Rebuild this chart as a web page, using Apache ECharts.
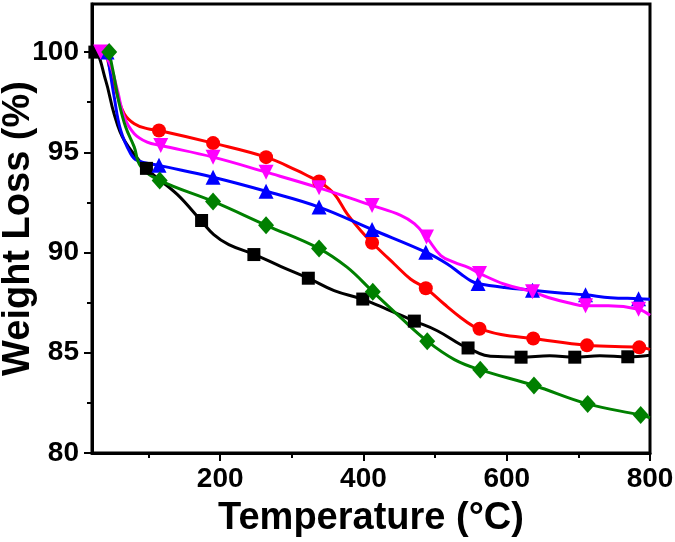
<!DOCTYPE html>
<html>
<head>
<meta charset="utf-8">
<script src="https://cdn.jsdelivr.net/npm/echarts@6/dist/echarts.min.js"></script>
<style>
  html, body { margin: 0; padding: 0; background: #fff; }
  #tga { width: 675px; height: 542px; }
</style>
</head>
<body>
<div id="tga"></div>
<script>
// TGA curves, [temperature, weight %]
const blackLine = [[21,100],[25,100],[40,98.6],[52,96.9],[66,95.6],[97,94.2],[140,92.9],[173,91.6],[191,90.9],[212,90.4],[248,89.9],[285,89.3],[323,88.72],[359,88.1],[398,87.68],[433,87.17],[471,86.58],[503,86.1],[536,85.4],[546,85.24],[569,84.88],[595,84.8],[620,84.78],[660,84.85],[695,84.78],[730,84.85],[769,84.8],[800,84.88]];
const blackMarks = [[25,100],[97,94.2],[174,91.6],[247,89.9],[323,88.72],[399,87.68],[471,86.58],[546,85.24],[620,84.78],[695,84.78],[769,84.8]];

const redLine = [[40,100],[56,97.9],[66,96.93],[80,96.43],[98,96.18],[114.5,96.09],[190,95.46],[264,94.76],[307,94.1],[326,93.76],[338,93.55],[359,92.93],[377,91.94],[396,91.1],[412,90.49],[443,89.43],[466,88.67],[487,88.22],[513,87.42],[536,86.75],[553,86.33],[562,86.2],[592,85.91],[637,85.71],[712,85.37],[785,85.27],[800,85.17]];
const redMarks = [[40,100],[114.5,96.09],[190,95.46],[264,94.76],[338,93.55],[412,90.49],[487,88.22],[562,86.2],[637,85.71],[712,85.37],[785,85.27]];

const blueLine = [[42,100],[52,97.76],[61,96.1],[75,94.93],[84,94.6],[114.5,94.35],[190,93.76],[264,93.06],[338,92.27],[412,91.15],[487,90.02],[517,89.43],[536,88.93],[550,88.59],[560,88.46],[597,88.26],[636,88.12],[671,88.0],[710,87.89],[745,87.75],[784,87.7],[800,87.67]];
const blueMarks = [[42,100],[114.5,94.35],[190,93.76],[264,93.06],[338,92.27],[412,91.15],[487,90.02],[560,88.46],[636,88.12],[710,87.89],[784,87.7]];

const pinkLine = [[33,100],[45,99.5],[56.5,98.09],[66,96.76],[80,95.93],[98,95.51],[117,95.34],[190,94.76],[264,94.01],[338,93.23],[412,92.35],[452,91.86],[471,91.44],[488,90.77],[508,89.85],[527,89.51],[546,89.26],[562,88.96],[597,88.42],[636,88.04],[658,87.76],[686,87.5],[710,87.34],[742,87.34],[784,87.17],[800,86.87]];
const pinkMarks = [[33,100],[117,95.34],[190,94.76],[264,94.01],[338,93.23],[412,92.35],[488,90.77],[562,88.96],[636,88.04],[710,87.34],[784,87.17]];

const greenLine = [[45,100],[52,98.75],[59,97.43],[68,96.26],[80,95.26],[89,94.3],[115.5,93.6],[190,92.55],[264,91.36],[338,90.2],[377,89.27],[413,88.05],[452,86.75],[489,85.58],[527,84.66],[563,84.15],[638,83.37],[713,82.45],[787,81.89],[800,81.76]];
const greenMarks = [[45,100],[115.5,93.6],[190,92.55],[264,91.36],[338,90.2],[413,88.05],[489,85.58],[563,84.15],[638,83.37],[713,82.45],[787,81.89]];

const xMajor = [200, 400, 600, 800];
const xMinor = [100, 300, 500, 700];
const yMajor = [80, 85, 90, 95, 100];
const yMinor = [82.5, 87.5, 92.5, 97.5];

const font = 'Arial, "Liberation Sans", sans-serif';

function curve(data, color) {
    return {
        type: 'line', data: data, smooth: 0.4,
        showSymbol: false, lineStyle: { color: color, width: 3 }, z: 2, silent: true
    };
}
function marks(data, color, symbol, size, rotate) {
    return {
        type: 'scatter', data: data, symbol: symbol, symbolSize: size,
        symbolRotate: rotate || 0, itemStyle: { color: color, opacity: 1 }, z: 3, silent: true
    };
}

const labelStyle = { fontFamily: font, fontSize: 28, fontWeight: 'bold', color: '#000' };
const nameStyle = { fontFamily: font, fontSize: 38, fontWeight: 'bold', color: '#000' };

const option = {
    animation: false,
    grid: {
        left: 92, right: 25, top: 4, bottom: 89, outerBoundsMode: 'none', containLabel: false,
        show: true, borderColor: '#000', borderWidth: 3
    },
    xAxis: [
        {
            type: 'value', min: 21, max: 800, position: 'bottom',
            name: 'Temperature (°C)', nameLocation: 'middle', nameGap: 47, nameMoveOverlap: false,
            nameTextStyle: nameStyle,
            axisLine: { show: true, lineStyle: { color: '#000', width: 3 } },
            axisTick: { customValues: xMajor, length: 8, lineStyle: { color: '#000', width: 2 } },
            axisLabel: Object.assign({ customValues: xMajor, margin: 12 }, labelStyle),
            splitLine: { show: false }
        },
        {
            type: 'value', min: 21, max: 800, position: 'bottom',
            axisLine: { show: false },
            axisTick: { customValues: xMinor, length: 5, lineStyle: { color: '#000', width: 2 } },
            axisLabel: { show: false },
            splitLine: { show: false }
        }
    ],
    yAxis: [
        {
            type: 'value', min: 80, max: 102.4, position: 'left',
            name: 'Weight Loss (%)', nameLocation: 'middle', nameGap: 54, nameMoveOverlap: false,
            nameTextStyle: nameStyle,
            axisLine: { show: true, lineStyle: { color: '#000', width: 3 } },
            axisTick: { customValues: yMajor, length: 8, lineStyle: { color: '#000', width: 2 } },
            axisLabel: Object.assign({ customValues: yMajor, margin: 13 }, labelStyle),
            splitLine: { show: false }
        },
        {
            type: 'value', min: 80, max: 102.4, position: 'left',
            axisLine: { show: false },
            axisTick: { customValues: yMinor, length: 5, lineStyle: { color: '#000', width: 2 } },
            axisLabel: { show: false },
            splitLine: { show: false }
        }
    ],
    series: [
        curve(blackLine, '#000000'),
        curve(redLine, '#ff0000'),
        curve(blueLine, '#0000ff'),
        curve(pinkLine, '#ff00ff'),
        curve(greenLine, '#008000'),
        marks(blackMarks, '#000000', 'rect', 13),
        marks(redMarks, '#ff0000', 'circle', 14),
        marks(blueMarks, '#0000ff', 'triangle', 15),
        marks(pinkMarks, '#ff00ff', 'triangle', 15, 180),
        marks(greenMarks, '#008000', 'diamond', [16, 18])
    ]
};

const chart = echarts.init(document.getElementById('tga'));
chart.setOption(option);
</script>
</body>
</html>
